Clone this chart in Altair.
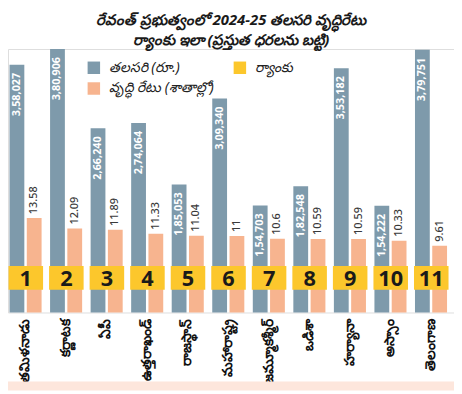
import altair as alt
import pandas as pd

states = ["తమిళనాడు", "కర్ణాటక", "ఏపీ", "ఉత్తరాఖండ్", "రాజస్థాన్", "మహారాష్ట్ర",
          "జమ్మూకశ్మీర్", "ఒడిశా", "హర్యానా", "అస్సాం", "తెలంగాణ"]
per_capita = [358027, 380906, 266240, 274064, 185053, 309340, 154703, 182548, 353182, 154222, 379751]
per_capita_labels = ["3,58,027", "3,80,906", "2,66,240", "2,74,064", "1,85,053", "3,09,340",
                     "1,54,703", "1,82,548", "3,53,182", "1,54,222", "3,79,751"]
growth = [13.58, 12.09, 11.89, 11.33, 11.04, 11.0, 10.6, 10.59, 10.59, 10.33, 9.61]
growth_labels = ["13.58", "12.09", "11.89", "11.33", "11.04", "11", "10.6", "10.59", "10.59", "10.33", "9.61"]
ranks = ["1", "2", "3", "4", "5", "6", "7", "8", "9", "10", "11"]

series_names = ["తలసరి (రూ.)", "ర్యాంకు", "వృద్ధి రేటు (శాతాల్లో)"]
series_colors = ["#7e9aab", "#fcc72c", "#f7b48f"]

df = pd.DataFrame({
    "state": states,
    "pc": per_capita,
    "pc_label": per_capita_labels,
    "gr": growth,
    "gr_label": growth_labels,
    "rank": ranks,
})

W, H = 452, 267
SHIFT = -3
FONT = "Noto Sans"

color_scale = alt.Scale(domain=series_names, range=series_colors)
legend = alt.Legend(title=None, orient="none", legendX=80, legendY=12, direction="horizontal",
                    columns=2, symbolType="square", symbolSize=160, symbolStrokeWidth=0,
                    labelFontSize=14, labelFont=FONT, labelColor="#222222", labelFontStyle="italic",
                    columnPadding=20, rowPadding=7, labelOffset=8)

x_axis = alt.Axis(title=None, labelAngle=270, labelFontSize=14, labelFontWeight="bold",
                  labelColor="#111111", labelFont=FONT, ticks=False, domain=False,
                  labelPadding=6, labelOffset=SHIFT, labelLimit=200)
x_enc = alt.X("state:N", sort=states, axis=x_axis,
              scale=alt.Scale(paddingInner=0, paddingOuter=0))

y_pc = alt.Y("pc:Q", scale=alt.Scale(domain=[0, 380906], nice=False, zero=True), axis=None)
y_gr = alt.Y("gr:Q", scale=alt.Scale(domain=[0, 37.9], nice=False, zero=True), axis=None)

base = alt.Chart(df)

gray_bars = base.transform_calculate(series=f"'{series_names[0]}'").mark_bar(
    width=15, xOffset=-8.5 + SHIFT).encode(
    x=x_enc, y=y_pc,
    color=alt.Color("series:N", scale=color_scale, legend=legend))

gray_text = base.mark_text(angle=270, align="right", baseline="middle", dx=-8,
                           xOffset=-8.5 + SHIFT, fontSize=11, fontWeight="bold",
                           color="white", font=FONT).encode(
    x=x_enc, y=y_pc, text="pc_label:N")

orange_bars = base.transform_calculate(series=f"'{series_names[2]}'").mark_bar(
    width=15, xOffset=9 + SHIFT).encode(
    x=x_enc, y=y_gr,
    color=alt.Color("series:N", scale=color_scale, legend=legend))

orange_text = base.mark_text(angle=270, align="left", baseline="middle", dx=4,
                             xOffset=9 + SHIFT, fontSize=11, fontWeight=500,
                             color="#3a3a3a", font=FONT).encode(
    x=x_enc, y=y_gr, text="gr_label:N")

rank_box = base.transform_calculate(series=f"'{series_names[1]}'").mark_bar(
    width=35, xOffset=0.5 + SHIFT).encode(
    x=x_enc, y=alt.value(220), y2=alt.value(244),
    color=alt.Color("series:N", scale=color_scale, legend=legend))

rank_text = base.mark_text(align="center", baseline="middle", fontSize=22, fontWeight="bold",
                           color="#1a1a1a", font=FONT, xOffset=0.5 + SHIFT).encode(
    x=x_enc, y=alt.value(233), text="rank:N")

band = alt.Chart(pd.DataFrame({"a": [0]})).mark_rect(color="#fde6dc").encode(
    x=alt.value(0), x2=alt.value(W), y=alt.value(H + 70), y2=alt.value(H + 79))

chart = alt.layer(
    gray_bars, orange_bars, rank_box, gray_text, orange_text, rank_text, band
).resolve_scale(y="independent").properties(
    width=W, height=H,
    padding={"left": 0, "top": 3, "right": 0, "bottom": 0},
    title=alt.Title(["రేవంత్ ప్రభుత్వంలో 2024-25 తలసరి వృద్ధిరేటు",
                     "ర్యాంకు ఇలా (ప్రస్తుత ధరలను బట్టి)"],
                    fontSize=15, fontWeight="bold", fontStyle="italic", color="#1a1a1a",
                    font=FONT, lineHeight=20, offset=1, anchor="middle"),
).configure_view(stroke=None).configure(background="white")

chart.save("out.html", embed_options={"renderer": "svg", "actions": False})
